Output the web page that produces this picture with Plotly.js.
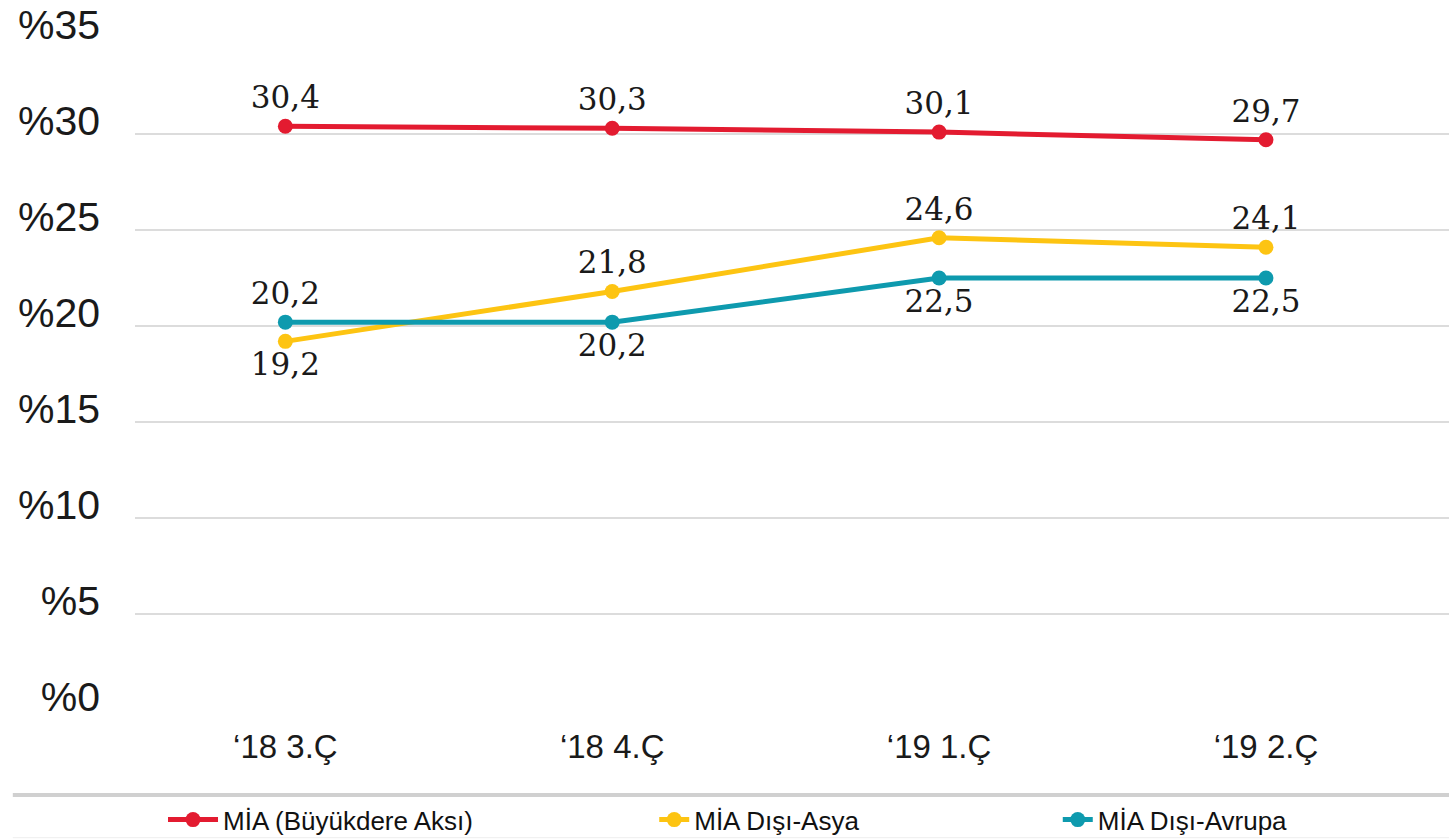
<!DOCTYPE html>
<html>
<head>
<meta charset="utf-8">
<script src="https://cdn.plot.ly/plotly-3.0.1.min.js"></script>
<style>html,body{margin:0;padding:0;background:#fff;}#chart{width:1449px;height:839px;}</style>
</head>
<body>
<div id="chart"></div>
<script>
const categories = ["‘18 3.Ç", "‘18 4.Ç", "‘19 1.Ç", "‘19 2.Ç"];
const seriesNames = ["MİA (Büyükdere Aksı)", "MİA Dışı-Asya", "MİA Dışı-Avrupa"];
const miaBuyukdere = [30.4, 30.3, 30.1, 29.7];
const miaDisiAsya = [19.2, 21.8, 24.6, 24.1];
const miaDisiAvrupa = [20.2, 20.2, 22.5, 22.5];
const yTickVals = [0, 5, 10, 15, 20, 25, 30, 35];
const yTickText = ["%0", "%5", "%10", "%15", "%20", "%25", "%30", "%35"];

const colors = ["#E31B30", "#FDC412", "#0E9AAE"];
const fmt = v => v.toFixed(1).replace('.', ',');

function mk(name, vals, color, pos, legendId) {
  return {
    type: 'scatter', mode: 'lines+markers+text',
    x: categories, y: vals, name: name,
    text: vals.map(fmt), textposition: pos,
    textfont: {family: 'DejaVu Serif', size: 31, color: '#1a1a1a'},
    line: {color: color, width: 5},
    marker: {color: color, size: 15},
    legend: legendId, cliponaxis: false, hoverinfo: 'skip'
  };
}

const traces = [
  mk(seriesNames[0], miaBuyukdere, colors[0], ['top center','top center','top center','top center'], 'legend'),
  mk(seriesNames[1], miaDisiAsya, colors[1], ['bottom center','top center','top center','top center'], 'legend2'),
  mk(seriesNames[2], miaDisiAvrupa, colors[2], ['top center','bottom center','bottom center','bottom center'], 'legend3')
];

const legFont = {family: 'Liberation Sans Narrow, Liberation Sans', size: 26, color: '#111'};
function leg(x, w) {
  return {xref: 'container', yref: 'container', x: x, y: 0.023, xanchor: 'left', yanchor: 'middle',
    font: legFont, bgcolor: 'rgba(0,0,0,0)', itemwidth: w};
}

const layout = {
  width: 1449, height: 839,
  margin: {l: 135, r: 0, t: 38, b: 129, autoexpand: false},
  paper_bgcolor: '#fff', plot_bgcolor: '#fff',
  showlegend: true,
  legend: leg(0.1125, 50),
  legend2: leg(0.4515, 30),
  legend3: leg(0.730, 30),
  xaxis: {
    type: 'category', range: [-0.46, 3.56], automargin: false, tickangle: 0,
    showgrid: false, zeroline: false, showline: false, ticks: '',
    tickfont: {family: 'Liberation Sans', size: 33, color: '#1a1a1a'},
    ticklabelstandoff: 14
  },
  yaxis: {
    range: [0, 35], tickvals: yTickVals, ticktext: yTickText, automargin: false,
    showgrid: true, gridcolor: '#dcdcdc', gridwidth: 1.5,
    zeroline: false, showline: false, ticks: '',
    tickfont: {family: 'Liberation Sans', size: 41, color: '#1a1a1a'},
    ticklabelstandoff: 34, ticklabelshift: -13
  },
  shapes: [
    {type: 'line', xref: 'paper', yref: 'paper', x0: -0.093, x1: 1, y0: -0.1265, y1: -0.1265,
     line: {color: '#d0d0d0', width: 4}},
    {type: 'line', xref: 'paper', yref: 'paper', x0: -0.093, x1: 1, y0: -0.19, y1: -0.19,
     line: {color: '#eeeeee', width: 1}}
  ]
};

Plotly.newPlot('chart', traces, layout, {displayModeBar: false, staticPlot: true});
</script>
</body>
</html>
